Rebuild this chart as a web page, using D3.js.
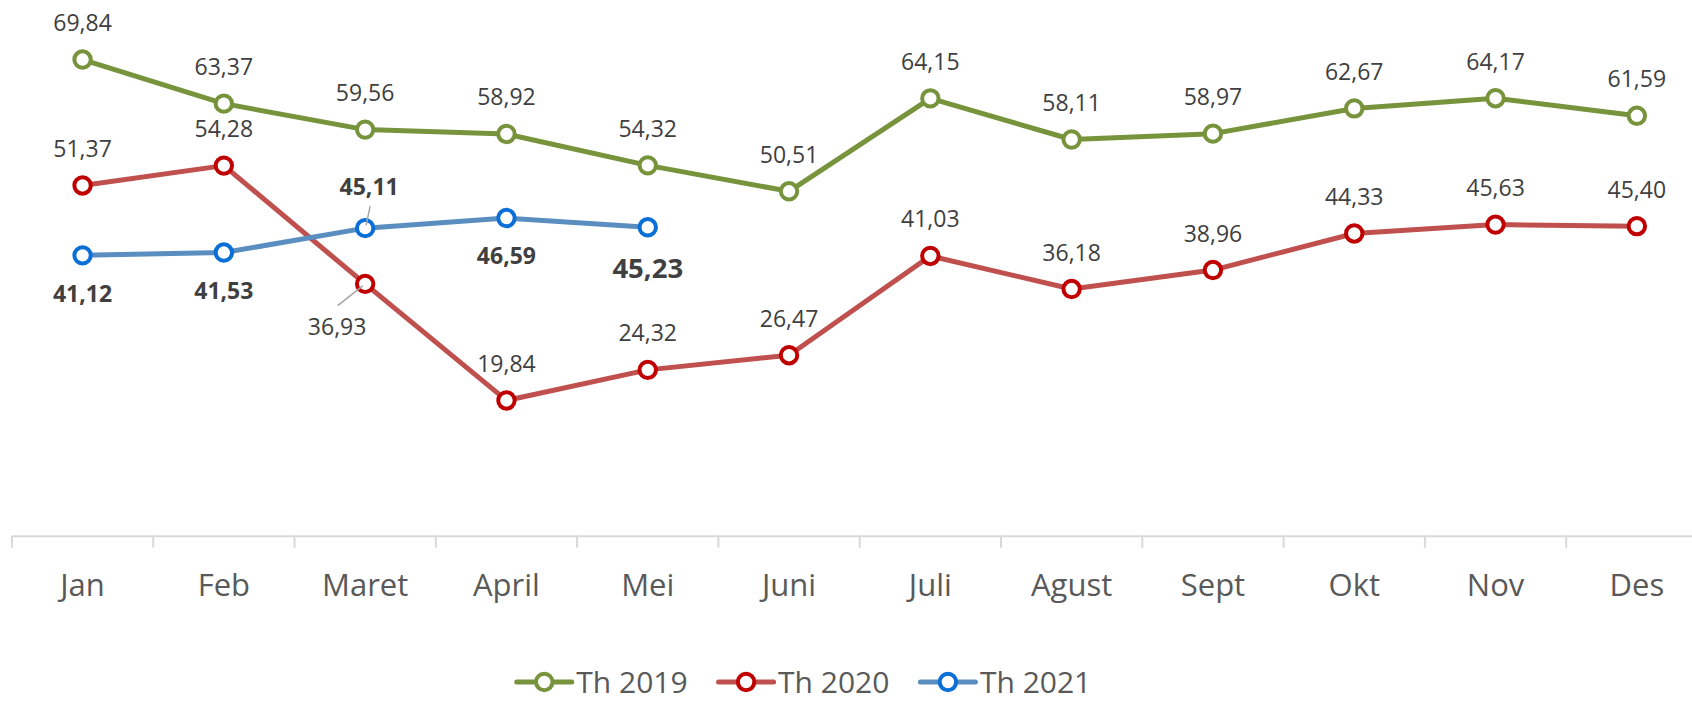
<!DOCTYPE html>
<html>
<head>
<meta charset="utf-8">
<script src="https://cdn.jsdelivr.net/npm/d3@7"></script>
<style>
  body { margin: 0; background: #fff; }
  svg { display: block; font-family: "Open Sans", sans-serif; }
</style>
</head>
<body>
<script>
/* Data */
var months = ["Jan", "Feb", "Maret", "April", "Mei", "Juni", "Juli", "Agust", "Sept", "Okt", "Nov", "Des"];
var th2019 = [69.84, 63.37, 59.56, 58.92, 54.32, 50.51, 64.15, 58.11, 58.97, 62.67, 64.17, 61.59];
var th2020 = [51.37, 54.28, 36.93, 19.84, 24.32, 26.47, 41.03, 36.18, 38.96, 44.33, 45.63, 45.40];
var th2021 = [41.12, 41.53, 45.11, 46.59, 45.23];
var seriesNames = ["Th 2019", "Th 2020", "Th 2021"];

/* Display setup */
var width = 1692, height = 701,
	svg = d3.select("body").append("svg")
		.attr("width", width)
		.attr("height", height),
	axisY = 535.7,
	labelColor = "#404040",
	axisColor = "#595959";

var x = d3.scaleBand()
	.domain(months)
	.range([11.9, 11.9 + 12 * 141.3])
	.padding(0);

var y = d3.scaleLinear()
	.domain([0, 80])
	.range([axisY, axisY - 80 * 6.818]);

var series = [
	{name: seriesNames[0], values: th2019, line: "#77933C", marker: "#77933C"},
	{name: seriesNames[1], values: th2020, line: "#C0504D", marker: "#C00000"},
	{name: seriesNames[2], values: th2021, line: "#5A8EC0", marker: "#0B6FD8"}
];

// label placement per series: dy from point, bold, size ; overrides by index
var labelStyle = [
	{dy: -28.5, bold: false, size: 23, over: {}},
	{dy: -28.5, bold: false, size: 23, over: {2: {dx: -28, dy: 51, leader: [[-27.5, 21.7], [-2.5, 2]]}}},
	{dy: 46.3, bold: true, size: 23, over: {
		2: {dx: 4, dy: -33, leader: [[5, -22], [1, -3]]},
		4: {dy: 51, size: 27.5}
	}}
];

var fmt = d3.format(".2f");
function label(v) { return fmt(v).replace(".", ","); }

function cx(i) { return x(months[i]) + x.bandwidth() / 2; }

/* Axis */
var axis = svg.append("g")
	.attr("transform", "translate(0," + axisY + ")")
	.call(d3.axisBottom(x).tickSize(0).tickPadding(0));

axis.select(".domain")
	.attr("stroke", "#d9d9d9")
	.attr("stroke-width", 2);

axis.selectAll(".tick text")
	.attr("y", 38.5)
	.attr("dy", "0.71em")
	.style("font-size", "31px")
	.style("font-family", "'Open Sans', sans-serif")
	.attr("fill", axisColor);

svg.append("g")
	.selectAll("line")
	.data(months)
	.enter().append("line")
		.attr("x1", function(d) { return x(d); })
		.attr("x2", function(d) { return x(d); })
		.attr("y1", axisY)
		.attr("y2", axisY + 12)
		.attr("stroke", "#d9d9d9")
		.attr("stroke-width", 2);

/* Lines */
var line = d3.line()
	.x(function(d, i) { return cx(i); })
	.y(function(d) { return y(d); });

series.forEach(function(s, k) {
	var g = svg.append("g");
	g.append("path")
		.datum(s.values)
		.attr("d", line)
		.attr("fill", "none")
		.attr("stroke", s.line)
		.attr("stroke-width", 5)
		.attr("stroke-linejoin", "round");

	g.selectAll("circle")
		.data(s.values)
		.enter().append("circle")
			.attr("cx", function(d, i) { return cx(i); })
			.attr("cy", function(d) { return y(d); })
			.attr("r", 8.2)
			.attr("fill", "#fff")
			.attr("stroke", s.marker)
			.attr("stroke-width", 4);
});

/* Data labels (drawn after all lines) */
series.forEach(function(s, k) {
	var st = labelStyle[k];
	var g = svg.append("g");
	s.values.forEach(function(v, i) {
		var o = st.over[i] || {};
		var px = cx(i), py = y(v);
		if (o.leader) {
			g.append("line")
				.attr("x1", px + o.leader[0][0]).attr("y1", py + o.leader[0][1])
				.attr("x2", px + o.leader[1][0]).attr("y2", py + o.leader[1][1])
				.attr("stroke", "#a6a6a6")
				.attr("stroke-width", 1.5);
		}
		g.append("text")
			.attr("x", px + (o.dx || 0))
			.attr("y", py + (o.dy !== undefined ? o.dy : st.dy))
			.attr("text-anchor", "middle")
			.style("font-size", (o.size || st.size) + "px")
			.style("font-weight", st.bold ? "bold" : "normal")
			.attr("fill", labelColor)
			.text(label(v));
	});
});

/* Legend */
var legend = svg.append("g"),
	legendY = 682,
	offset = 0;

series.forEach(function(s) {
	var item = legend.append("g").attr("transform", "translate(" + offset + ",0)");
	item.append("line")
		.attr("x1", 0).attr("x2", 55)
		.attr("y1", legendY).attr("y2", legendY)
		.attr("stroke", s.line)
		.attr("stroke-width", 5)
		.attr("stroke-linecap", "round");
	item.append("circle")
		.attr("cx", 27.5).attr("cy", legendY)
		.attr("r", 8.2)
		.attr("fill", "#fff")
		.attr("stroke", s.marker)
		.attr("stroke-width", 4);
	var t = item.append("text")
		.attr("x", 59.5)
		.attr("y", legendY + 10.5)
		.style("font-size", "30px")
		.attr("fill", axisColor)
		.text(s.name);
	offset += 59.5 + t.node().getComputedTextLength() + 31;
});

var legendW = offset - 31;
legend.attr("transform", "translate(" + (804 - legendW / 2) + ",0)");
</script>
</body>
</html>
